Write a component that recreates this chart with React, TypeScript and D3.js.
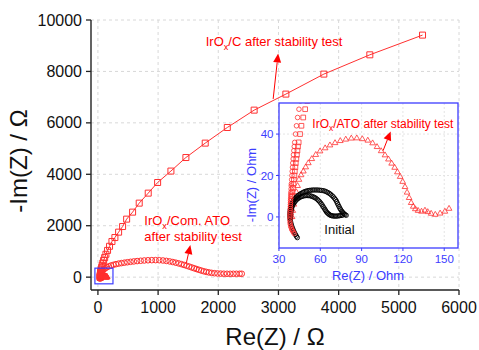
import React from 'react';
import * as d3 from 'd3';

type P = [number, number];

const W = 479, H = 350;
const FONT = 'Liberation Sans, Arial, Helvetica, sans-serif';
const RED = '#ff0000';
const MRED = '#ff3030';
const BLUE = '#3c3cff';

const xTicks = [0, 1000, 2000, 3000, 4000, 5000, 6000];
const yTicks = [0, 2000, 4000, 6000, 8000, 10000];
const insetXTicks = [30, 60, 90, 120, 150];
const insetYTicks = [0, 20, 40];

// IrOx/C after stability test (squares, main axes, Ohm)
const irOxC: P[] = [
  [38, -10], [38.5, 0], [39, 12], [39, 25], [39.5, 40], [40, 55], [40.5, 72], [41, 90], [42, 112],
  [43, 135], [44.5, 160], [46, 185], [48, 215], [50, 245], [55, 310], [62, 380],
  [71, 460], [82, 550], [95, 650], [112, 760], [133, 890], [160, 1040], [193, 1200], [233, 1385],
  [282, 1540], [344, 1750], [410, 1968], [477, 2256], [576, 2528], [686, 2878], [836, 3267],
  [992, 3680], [1213, 4125], [1462, 4652], [1783, 5212], [2150, 5820], [2596, 6495], [3123, 7118],
  [3754, 7896], [4518, 8646], [5394, 9413],
];

// IrOx/Com. ATO after stability test (circles, main axes)
const irOxComATO: P[] = [
  [36, -60], [36, -30], [38, -5], [39, 15], [40, 35], [42, 58], [44, 80], [47, 102], [50, 125],
  [54, 148], [58, 170], [63, 193], [68, 215], [75, 238], [82, 260], [100, 305], [122, 345],
  [150, 385], [182, 420], [218, 452], [258, 480], [300, 505], [345, 527], [392, 546], [440, 563],
  [490, 580], [542, 596], [596, 611], [652, 625], [710, 637], [770, 648], [832, 656], [895, 661],
  [958, 662], [1020, 658], [1080, 648], [1138, 632], [1192, 612], [1244, 588], [1294, 562],
  [1342, 534], [1388, 505], [1432, 474], [1475, 442], [1517, 410], [1558, 378], [1598, 346],
  [1638, 315], [1678, 285], [1718, 256], [1758, 229], [1800, 205], [1844, 184], [1890, 166],
  [1938, 153], [1988, 143], [2040, 137], [2092, 133], [2145, 131], [2198, 130], [2250, 130],
  [2302, 130], [2354, 131], [2390, 131],
];

// Inset: IrOx/ATO after stability test (triangles)
const irOxATO: P[] = [
  [39.5, 0], [40, 3], [40.8, 6], [41.7, 9], [42.6, 12], [43.5, 15], [44.5, 18], [46, 20.2],
  [47.7, 22], [49.4, 24], [51.3, 26], [53.8, 28], [56.7, 30], [59.8, 31.7], [63.5, 33.2],
  [67, 34.6], [70.7, 35.7], [74.5, 36.7], [78.5, 37.4], [82.5, 37.9], [86.5, 38], [90.5, 37.6],
  [94.5, 36.9], [98, 35.6], [101.2, 33.8], [104.2, 31.8], [107, 29.8], [109.5, 27.8], [111.8, 25.8],
  [114, 23.8], [116, 21.6], [118, 19.4], [119.8, 17], [121.5, 14.5], [123, 11.8], [124.5, 9.2],
  [126, 6.8], [127.5, 5], [129, 3.8], [131, 3], [133.5, 2.6], [136, 3.1], [138, 2.4], [140.5, 1.6],
  [143.5, 1.1], [147, 1.7], [150.5, 2.6], [153.5, 4],
];

// Inset: steep red branches (Com. ATO circles, C squares)
const insetComATO: P[] = [
  [41, -8], [40.3, -7.2], [39.7, -6.5], [39.3, -6], [38.9, -5.2], [38.5, -4.5], [38.2, -3.5],
  [38, -2.5], [37.9, -1.2], [38, 0], [38, 1], [38.1, 2], [38.2, 3], [38.2, 4], [38.3, 5], [38.3, 6],
  [38.4, 7], [38.4, 8], [38.5, 9], [38.6, 10], [38.6, 11], [38.7, 12], [38.8, 13.5], [38.9, 15],
  [39, 16], [39.2, 18], [39.4, 20], [39.6, 22], [39.8, 24], [40, 26], [40.3, 28], [40.5, 30],
  [40.8, 32], [41.1, 34], [41.4, 36], [42, 40], [42.7, 44], [43.5, 48], [44.5, 52], [45.5, 56],
];
const insetC: P[] = [
  [38.4, 0], [38.5, 2], [38.7, 4], [38.9, 6], [39.2, 8], [39.5, 10], [39.8, 12], [40.1, 14],
  [40.5, 16], [40.8, 18], [41.2, 20], [41.5, 22], [41.9, 24], [42.2, 26], [42.6, 28], [43, 30],
  [43.4, 32], [43.8, 34], [44.3, 36], [45.3, 40], [46.3, 44], [47.6, 48], [49, 52], [50.5, 56],
];

// Inset: Initial (black)
const initialOuter: P[] = [
  [43.3, -10], [42.6, -9.3], [42, -8.5], [41.2, -7.5], [40.5, -6.5], [39.9, -5.5], [39.3, -4.5],
  [38.9, -3.5], [38.5, -2.5], [38.2, -1.5], [38, -0.5], [37.9, 0.5], [37.9, 1.5], [38, 2.5],
  [38.2, 3.5], [38.5, 4.4], [38.9, 5.3], [39.3, 6.1], [39.8, 6.9], [40.4, 7.6], [41, 8.3],
  [41.7, 8.9], [42.5, 9.5], [43.3, 10], [44.2, 10.5], [45.1, 10.9], [46, 11.3], [47, 11.7],
  [48, 12], [49, 12.3], [50, 12.5], [51.1, 12.7], [52.2, 12.8], [53.3, 12.9], [54.5, 13],
  [55.7, 13], [57, 13], [58.2, 13], [59.5, 12.9], [60.7, 12.8], [62, 12.7], [63.2, 12.5],
  [64.3, 12.2], [65.4, 11.8], [66.5, 11.4], [67.5, 10.9], [68.5, 10.3], [69.4, 9.7], [70.3, 9],
  [71.1, 8.3], [71.8, 7.5], [72.4, 6.6], [73, 5.8], [73.6, 5], [74.2, 4.2], [74.8, 3.5],
  [75.5, 2.8], [76.1, 2.3], [76.8, 1.8], [77.4, 1.4], [78, 1.1], [78.8, 0.8],
];
const initialInner: P[] = [
  [38.4, 0], [38.5, 1.3], [38.6, 2.5], [38.9, 3.5], [39.3, 4.5], [39.8, 5.4], [40.4, 6.2],
  [41.1, 6.9], [41.8, 7.6], [42.6, 8.2], [43.4, 8.7], [44.3, 9.1], [45.2, 9.5], [46.2, 9.8],
  [47.2, 10], [48.2, 10.2], [49.3, 10.3], [50.4, 10.3], [51.5, 10.3], [52.6, 10.2], [53.7, 10],
  [54.8, 9.7], [55.8, 9.4], [56.8, 9], [57.8, 8.5], [58.7, 7.9], [59.6, 7.3], [60.4, 6.6],
  [61.2, 5.9], [61.9, 5.1], [62.6, 4.4], [63.3, 3.7], [63.9, 3], [64.5, 2.4], [65.2, 1.9],
  [65.9, 1.5], [66.6, 1.1], [67.4, 0.8], [68.2, 0.6], [69.1, 0.5], [70, 0.4], [71, 0.4], [72, 0.4],
  [73, 0.5], [74, 0.6], [75, 0.7], [76, 0.8],
];

// annotation arrows [from, tip] in data coordinates
const arrowC: [P, P] = [[2912, 6930], [2995, 8700]];
const arrowComATO: [P, P] = [[1470, 556], [1536, 1250]];
const arrowATO: [P, P] = [[105.6, 32], [111.1, 41.3]];
const zoomBox: [P, P] = [[-50, -260], [250, 350]];

function Arrow({ a, b }: { a: P; b: P }) {
  const dx = b[0] - a[0], dy = b[1] - a[1];
  const L = Math.hypot(dx, dy);
  const ux = dx / L, uy = dy / L;
  const hl = 9, hw = 4;
  const bx = b[0] - ux * hl, by = b[1] - uy * hl;
  const pts = [b, [bx - uy * hw, by + ux * hw], [bx + uy * hw, by - ux * hw]]
    .map((p) => p.join(',')).join(' ');
  return (
    <g>
      <line x1={a[0]} y1={a[1]} x2={bx} y2={by} stroke={RED} strokeWidth={1} />
      <polygon points={pts} fill={RED} />
    </g>
  );
}

function IrOxLabel({ x, y, rest, size }: { x: number; y: number; rest: string; size: number }) {
  return (
    <text x={x} y={y} fill={RED} fontSize={size} fontFamily={FONT}>
      <tspan>IrO</tspan>
      <tspan dy={3.5} fontSize={size * 0.7}>x</tspan>
      <tspan dy={-3.5}>{rest}</tspan>
    </text>
  );
}

export default function App() {
  const x = d3.scaleLinear().domain([-115, 6000]).range([91, 459]);
  const y = d3.scaleLinear().domain([-500, 10000]).range([290, 20]);
  const ix = d3.scaleLinear().domain([30, 160]).range([279, 458]);
  const iy = d3.scaleLinear().domain([-15, 55]).range([248, 103]);

  const lineC = d3.line<P>().x((d) => x(d[0])).y((d) => y(d[1]));
  const sq = d3.symbol(d3.symbolSquare, 36)()!;
  const sqSmall = d3.symbol(d3.symbolSquare, 22)()!;
  const tri = d3.symbol(d3.symbolTriangle, 14)()!;

  const [x0, x1] = x.range();
  const [y0, y1] = y.range();

  const sp = (s: [P, P], fx: any, fy: any): [P, P] => [
    [fx(s[0][0]), fy(s[0][1])],
    [fx(s[1][0]), fy(s[1][1])],
  ];
  const aC = sp(arrowC, x, y);
  const aCom = sp(arrowComATO, x, y);
  const aATO = sp(arrowATO, ix, iy);

  return (
    <svg width={W} height={H} style={{ position: 'fixed', left: 0, top: 0, background: '#fff' }}
      fontFamily={FONT}>
      <defs>
        <clipPath id="insetClip">
          <rect x={279} y={103} width={179} height={145} />
        </clipPath>
        <clipPath id="mainClip">
          <rect x={x0} y={y1 - 8} width={x1 - x0 + 8} height={y0 - y1 + 8} />
        </clipPath>
      </defs>
      <rect x={0} y={0} width={W} height={H} fill="#fff" />

      {/* main grid */}
      {xTicks.map((t) => (
        <line key={'gx' + t} x1={x(t)} x2={x(t)} y1={y1} y2={y0} stroke="#d8d8d8" strokeDasharray="3,3" />
      ))}
      {yTicks.map((t) => (
        <line key={'gy' + t} x1={x0} x2={x1} y1={y(t)} y2={y(t)} stroke="#d8d8d8" strokeDasharray="3,3" />
      ))}

      {/* main series */}
      <g clipPath="url(#mainClip)">
        <path d={lineC(irOxC)!} fill="none" stroke={MRED} strokeWidth={1} />
        {irOxC.map((d, i) => (
          <path key={'s' + i} d={sq} transform={`translate(${x(d[0])},${y(d[1])})`} fill="none" stroke={MRED} strokeWidth={1} />
        ))}
        {irOxComATO.map((d, i) => (
          <circle key={'c' + i} cx={x(d[0])} cy={y(d[1])} r={2.8} fill="none" stroke={MRED} strokeWidth={1} />
        ))}
        {irOxATO.map((d, i) => (
          <path key={'t' + i} d={tri} transform={`translate(${x(d[0])},${y(d[1])})`} fill={MRED} stroke={MRED} strokeWidth={1} />
        ))}
      </g>

      {/* zoom box */}
      <rect x={x(zoomBox[0][0])} y={y(zoomBox[1][1])} width={x(zoomBox[1][0]) - x(zoomBox[0][0])}
        height={y(zoomBox[0][1]) - y(zoomBox[1][1])} fill="none" stroke={BLUE} strokeWidth={1.2} />

      {/* main axes */}
      <line x1={x0} x2={x0} y1={y1} y2={y0} stroke="#222" strokeWidth={1.4} />
      <line x1={x0} x2={x1} y1={y0} y2={y0} stroke="#222" strokeWidth={1.4} />
      {yTicks.map((t) => (
        <g key={'yt' + t}>
          <line x1={x0 - 5} x2={x0} y1={y(t)} y2={y(t)} stroke="#222" strokeWidth={1.3} />
          <text x={82} y={y(t)} dy="0.35em" textAnchor="end" fontSize={16} fill="#111">{t}</text>
        </g>
      ))}
      {xTicks.map((t) => (
        <g key={'xt' + t}>
          <line x1={x(t)} x2={x(t)} y1={y0} y2={y0 + 5} stroke="#222" strokeWidth={1.3} />
          <text x={x(t)} y={312.5} textAnchor="middle" fontSize={16} fill="#111">{t}</text>
        </g>
      ))}
      <text x={275} y={345} textAnchor="middle" fontSize={24} fill="#111">Re(Z) / Ω</text>
      <text transform="translate(27,161) rotate(-90)" textAnchor="middle" fontSize={24} fill="#111">-Im(Z) / Ω</text>

      {/* main annotations */}
      <IrOxLabel x={205.7} y={46} rest="/C after stability test" size={13} />
      <Arrow a={aC[0]} b={aC[1]} />
      <IrOxLabel x={144.3} y={225} rest="/Com. ATO" size={13} />
      <text x={144.3} y={241} fill={RED} fontSize={13}>after stability test</text>
      <Arrow a={aCom[0]} b={aCom[1]} />

      {/* inset */}
      <rect x={279} y={103} width={179} height={145} fill="#fff" />
      {insetXTicks.slice(1).map((t) => (
        <line key={'igx' + t} x1={ix(t)} x2={ix(t)} y1={103} y2={248} stroke="#e4e4e4" strokeDasharray="2,2" />
      ))}
      {insetYTicks.map((t) => (
        <line key={'igy' + t} x1={279} x2={458} y1={iy(t)} y2={iy(t)} stroke="#e4e4e4" strokeDasharray="2,2" />
      ))}
      <g clipPath="url(#insetClip)">
        {insetC.map((d, i) => (
          <path key={'is' + i} d={sqSmall} transform={`translate(${ix(d[0])},${iy(d[1])})`} fill="none" stroke={MRED} strokeWidth={0.8} />
        ))}
        {irOxATO.map((d, i) => (
          <path key={'it' + i} d={tri} transform={`translate(${ix(d[0])},${iy(d[1])})`} fill="none" stroke={MRED} strokeWidth={0.8} />
        ))}
        {initialOuter.map((d, i) => (
          <circle key={'io' + i} cx={ix(d[0])} cy={iy(d[1])} r={2.2} fill="none" stroke="#000" strokeWidth={0.9} />
        ))}
        {initialInner.map((d, i) => (
          <circle key={'ii' + i} cx={ix(d[0])} cy={iy(d[1])} r={2.2} fill="none" stroke="#000" strokeWidth={0.9} />
        ))}
        {insetComATO.map((d, i) => (
          <circle key={'ic' + i} cx={ix(d[0])} cy={iy(d[1])} r={2.3} fill="none" stroke={MRED} strokeWidth={0.8} />
        ))}
      </g>
      <rect x={279} y={103} width={179} height={145} fill="none" stroke={BLUE} strokeWidth={1.3} />
      {insetYTicks.map((t) => (
        <g key={'iyt' + t}>
          <line x1={276} x2={279} y1={iy(t)} y2={iy(t)} stroke={BLUE} strokeWidth={1} />
          <text x={273.5} y={iy(t)} dy="0.35em" textAnchor="end" fontSize={11.5} fill={BLUE}>{t}</text>
        </g>
      ))}
      {insetXTicks.map((t) => (
        <g key={'ixt' + t}>
          <line x1={ix(t)} x2={ix(t)} y1={248} y2={251} stroke={BLUE} strokeWidth={1} />
          <text x={ix(t)} y={262.5} textAnchor="middle" fontSize={11.5} fill={BLUE}>{t}</text>
        </g>
      ))}
      <text x={368} y={279.5} textAnchor="middle" fontSize={13} fill={BLUE}>Re(Z) / Ohm</text>
      <text transform="translate(256,185) rotate(-90)" textAnchor="middle" fontSize={13} fill={BLUE}>-Im(Z) / Ohm</text>
      <IrOxLabel x={312.3} y={127.5} rest="/ATO after stability test" size={12} />
      <Arrow a={aATO[0]} b={aATO[1]} />
      <text x={324.3} y={233.5} fontSize={13} fill="#111">Initial</text>
    </svg>
  );
}
